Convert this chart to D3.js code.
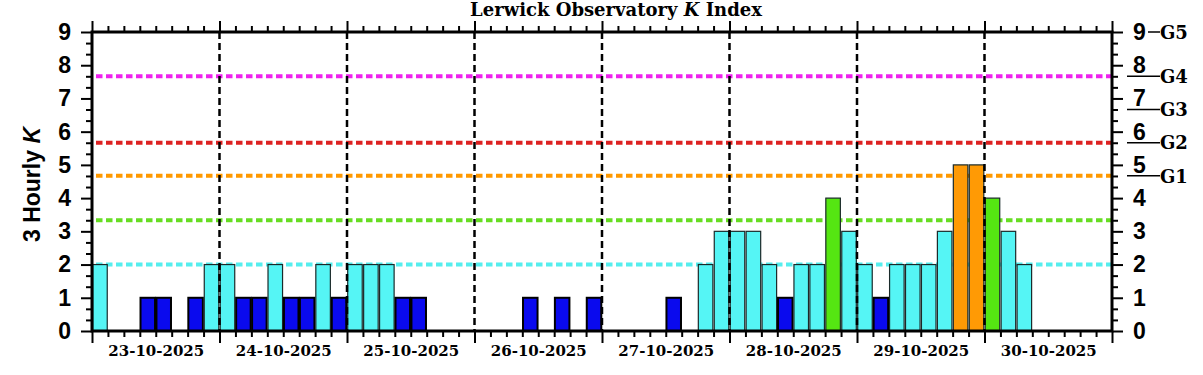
<!DOCTYPE html>
<html>
<head>
<meta charset="utf-8">
<script src="https://cdn.jsdelivr.net/npm/d3@7"></script>
<style>
  body { margin: 0; background: #fff; }
  svg { display: block; }
</style>
</head>
<body>
<div id="chart"></div>
<script>
// Day labels and 3-hourly K values (8 per day, latest day still incomplete)
const days = ['23-10-2025', '24-10-2025', '25-10-2025', '26-10-2025',
  '27-10-2025', '28-10-2025', '29-10-2025', '30-10-2025'];
const kValues = [
  2, 0, 0, 1, 1, 0, 1, 2,
  2, 1, 1, 2, 1, 1, 2, 1,
  2, 2, 2, 1, 1, 0, 0, 0,
  0, 0, 0, 1, 0, 1, 0, 1,
  0, 0, 0, 0, 1, 0, 2, 3,
  3, 3, 2, 1, 2, 2, 4, 3,
  2, 1, 2, 2, 2, 3, 5, 5,
  4, 3, 2
];
// horizontal alert levels across the plot
const thresholdLevels = [2, 3.33, 4.67, 5.67, 7.67];
const thresholdColors = ['#55eeee', '#66dd22', '#ff9900', '#dd2222', '#ee22ee'];
// G storm scale marks on the right
const gLabels = ['G1', 'G2', 'G3', 'G4'];
const gLevels = [4.67, 5.67, 6.67, 7.67];
const yTicks = [0, 1, 2, 3, 4, 5, 6, 7, 8, 9];

const width = 1203, height = 375;
const margin = { top: 32, right: 91, bottom: 44, left: 92 };
const chartWidth = width - margin.left - margin.right;
const chartHeight = height - margin.top - margin.bottom;

const svg = d3.select('#chart').append('svg')
  .attr('width', width)
  .attr('height', height);
const g = svg.append('g')
  .attr('transform', `translate(${margin.left},${margin.top})`);

const slots = days.length * 8;
const x = d3.scaleLinear().domain([0, slots]).range([0, chartWidth]);
const y = d3.scaleLinear().domain([0, 9]).range([chartHeight, 0]);

function barColor(k) {
  if (k < 2) return '#0a0aee';
  if (k < 4) return '#55f5f5';
  if (k < 5) return '#55e612';
  if (k < 6) return '#ff9a05';
  return '#ee2222';
}

// threshold lines (behind bars)
g.selectAll('.thr')
  .data(thresholdLevels)
  .enter().append('line')
  .attr('x1', 4).attr('x2', chartWidth)
  .attr('y1', d => y(d)).attr('y2', d => y(d))
  .attr('stroke', (d, i) => thresholdColors[i])
  .attr('stroke-width', 4)
  .attr('stroke-dasharray', '6.5 3.5');

// bars
g.selectAll('.bar')
  .data(kValues)
  .enter().append('rect')
  .attr('x', (d, i) => x(i) + 0.7)
  .attr('y', d => y(d))
  .attr('width', x(1) - x(0) - 1.4)
  .attr('height', d => chartHeight - y(d))
  .attr('fill', d => barColor(d))
  .attr('stroke', d => d < 2 ? '#000' : '#1a2a2a')
  .attr('stroke-width', d => d < 2 ? 2 : 1.2);

// day separators
g.selectAll('.day')
  .data(d3.range(1, days.length))
  .enter().append('line')
  .attr('x1', d => x(d * 8)).attr('x2', d => x(d * 8))
  .attr('y1', 0).attr('y2', chartHeight)
  .attr('stroke', '#000')
  .attr('stroke-width', 2.5)
  .attr('stroke-dasharray', '7 4');

// axes
const minorX = d3.range(0, slots + 1).filter(d => d % 8 !== 0);
const majorX = d3.range(0, slots + 1, 8);
const minorY = d3.range(0, 27).filter(d => d % 3 !== 0).map(d => d / 3);

function styleAxis(sel, w) {
  sel.selectAll('.domain').remove();
  sel.selectAll('.tick line').attr('stroke', '#000').attr('stroke-width', w);
}

g.append('g').attr('transform', `translate(0,${chartHeight})`)
  .call(d3.axisBottom(x).tickValues(minorX).tickSize(6).tickFormat(''))
  .call(s => styleAxis(s, 2));
g.append('g').attr('transform', `translate(0,${chartHeight})`)
  .call(d3.axisBottom(x).tickValues(majorX).tickSize(12).tickFormat(''))
  .call(s => styleAxis(s, 2));
g.append('g')
  .call(d3.axisTop(x).tickValues(minorX).tickSize(6).tickFormat(''))
  .call(s => styleAxis(s, 2));
g.append('g')
  .call(d3.axisTop(x).tickValues(majorX).tickSize(11).tickFormat(''))
  .call(s => styleAxis(s, 2));

// date labels under each day
g.append('g').attr('transform', `translate(0,${chartHeight})`)
  .call(d3.axisBottom(x).tickValues(d3.range(days.length).map(i => i * 8 + 4))
    .tickSize(0).tickPadding(14).tickFormat((d, i) => days[i]))
  .call(s => {
    s.selectAll('.domain').remove();
    s.selectAll('text')
      .attr('font-family', '"DejaVu Serif", serif')
      .attr('font-weight', 'bold')
      .attr('font-size', 15)
      .attr('fill', '#000');
  });

function yAxisSide(axisFn, tx) {
  const a = g.append('g').attr('transform', `translate(${tx},0)`);
  a.append('g')
    .call(axisFn(y).tickValues(minorY).tickSize(6).tickFormat(''))
    .call(s => styleAxis(s, 2));
  a.append('g')
    .call(axisFn(y).tickValues(yTicks).tickSize(11).tickPadding(10).tickFormat(d3.format('d')))
    .call(s => {
      styleAxis(s, 2);
      s.selectAll('text')
        .attr('font-family', '"Liberation Sans", Arial, sans-serif')
        .attr('font-weight', 'bold')
        .attr('font-size', 23)
        .attr('fill', '#000');
    });
}
yAxisSide(d3.axisLeft, 0);
yAxisSide(d3.axisRight, chartWidth);

// frame
g.append('rect')
  .attr('width', chartWidth).attr('height', chartHeight)
  .attr('fill', 'none').attr('stroke', '#000').attr('stroke-width', 3);

// G scale on the right
const gx = chartWidth + 15;
g.selectAll('.gline')
  .data(gLevels)
  .enter().append('line')
  .attr('x1', gx).attr('x2', gx + 33)
  .attr('y1', d => y(d)).attr('y2', d => y(d))
  .attr('stroke', '#000').attr('stroke-width', 1.5);
g.selectAll('.glab')
  .data(gLabels)
  .enter().append('text')
  .attr('x', gx + 33)
  .attr('y', (d, i) => y(gLevels[i]))
  .attr('dy', '0.38em')
  .attr('font-family', '"DejaVu Serif", serif')
  .attr('font-weight', 'bold')
  .attr('font-size', 18)
  .text(d => d);
g.append('line')
  .attr('x1', gx + 21).attr('x2', gx + 33)
  .attr('y1', y(9)).attr('y2', y(9))
  .attr('stroke', '#000').attr('stroke-width', 1.5);
g.append('text')
  .attr('x', gx + 33).attr('y', y(9)).attr('dy', '0.38em')
  .attr('font-family', '"DejaVu Serif", serif')
  .attr('font-weight', 'bold')
  .attr('font-size', 18)
  .text('G5');

// title
const title = svg.append('text')
  .attr('x', 616).attr('y', 16)
  .attr('text-anchor', 'middle')
  .attr('font-family', '"DejaVu Serif", serif')
  .attr('font-weight', 'bold')
  .attr('font-size', 18);
title.append('tspan').text('Lerwick Observatory ');
title.append('tspan').attr('font-style', 'italic').text('K');
title.append('tspan').text(' Index');

// y label
const ylab = svg.append('text')
  .attr('transform', `translate(40,${margin.top + chartHeight / 2 + 3}) rotate(-90)`)
  .attr('text-anchor', 'middle')
  .attr('font-family', '"Liberation Sans", Arial, sans-serif')
  .attr('font-weight', 'bold')
  .attr('font-size', 23);
ylab.append('tspan').text('3 Hourly ');
ylab.append('tspan').attr('font-style', 'italic').text('K');
</script>
</body>
</html>
